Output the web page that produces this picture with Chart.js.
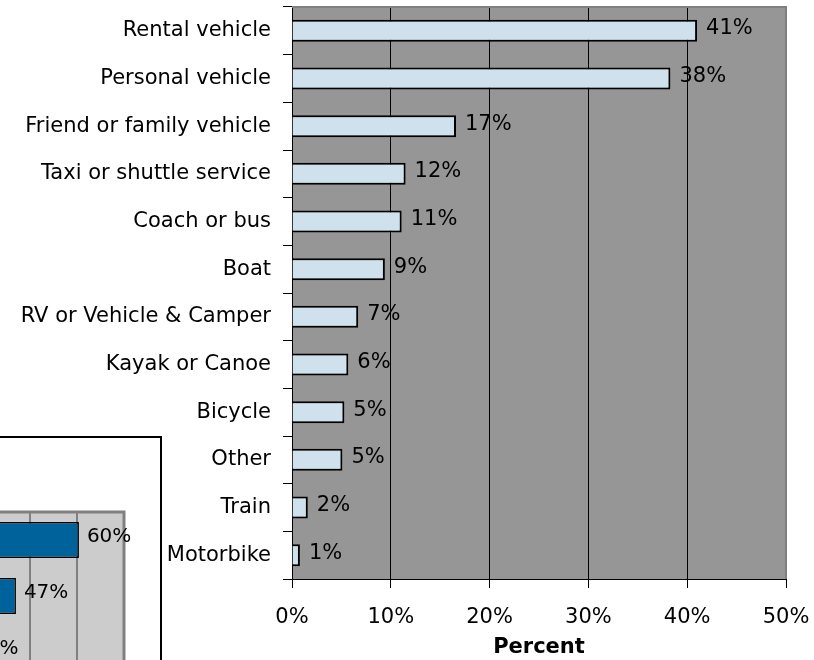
<!DOCTYPE html>
<html lang="en">
<head>
  <meta charset="UTF-8">
  <title>Transport used</title>
  <script src="https://cdn.jsdelivr.net/npm/chart.js"></script>
  <style>
    html, body { margin: 0; padding: 0; background: #fff; overflow: hidden; }
    #wrap { position: relative; width: 814px; height: 660px; overflow: hidden; }
    #main { position: absolute; left: 0; top: 0; }
    #side { position: absolute; left: -420px; top: 436px; width: 580px; height: 300px;
            background: #fff; border-top: 2px solid #000; border-right: 2px solid #000; }
  </style>
</head>
<body>
  <div id="wrap">
    <canvas id="main" width="814" height="660"></canvas>
    <div id="side"><canvas id="sideChart" width="580" height="260"></canvas></div>
  </div>
  <script>
    // main chart data
    const categories = ['Rental vehicle', 'Personal vehicle', 'Friend or family vehicle',
      'Taxi or shuttle service', 'Coach or bus', 'Boat', 'RV or Vehicle & Camper',
      'Kayak or Canoe', 'Bicycle', 'Other', 'Train', 'Motorbike'];
    const percentValues = [41.0, 38.3, 16.6, 11.5, 11.1, 9.4, 6.7, 5.7, 5.3, 5.1, 1.6, 0.8];
    const percentTicks = [0, 10, 20, 30, 40, 50];

    // the chart cut off in the lower left corner (its labels are outside the picture)
    const sideCategories = ['', '', ''];
    const sideValues = [60.4, 47.0, 36.4];
    const sideTicks = [0, 10, 20, 30, 40, 50, 60, 70];

    const FONT = 'DejaVu Sans';

    // grey plot area with a grey top/right edge, like the spreadsheet chart
    const plotBackground = {
      id: 'plotBackground',
      beforeDraw(chart, args, opts) {
        const { ctx, chartArea: a } = chart;
        ctx.save();
        ctx.fillStyle = opts.color;
        ctx.fillRect(a.left, a.top, a.right - a.left, a.bottom - a.top);
        ctx.restore();
      },
      beforeDatasetsDraw(chart, args, opts) {
        const { ctx, chartArea: a } = chart;
        ctx.save();
        ctx.strokeStyle = opts.edge;
        ctx.lineWidth = opts.edgeWidth;
        ctx.beginPath();
        ctx.moveTo(a.left, a.top);
        ctx.lineTo(a.right, a.top);
        ctx.lineTo(a.right, a.bottom);
        ctx.stroke();
        ctx.restore();
      }
    };

    // "41%" style labels to the right of each bar
    const valueLabels = {
      id: 'valueLabels',
      afterDatasetsDraw(chart, args, opts) {
        const { ctx } = chart;
        const meta = chart.getDatasetMeta(0);
        const data = chart.data.datasets[0].data;
        ctx.save();
        ctx.font = opts.font;
        ctx.fillStyle = '#000';
        ctx.textAlign = 'left';
        ctx.textBaseline = 'middle';
        meta.data.forEach((bar, i) => {
          ctx.fillText(Math.round(data[i]) + '%', bar.x + opts.gap, bar.y + opts.shift);
        });
        ctx.restore();
      }
    };

    new Chart(document.getElementById('main'), {
      type: 'bar',
      data: {
        labels: categories,
        datasets: [{
          data: percentValues,
          backgroundColor: '#cfe1ec',
          borderColor: '#000',
          borderWidth: 2,
          barPercentage: 0.46,
          categoryPercentage: 1
        }]
      },
      options: {
        indexAxis: 'y',
        responsive: false,
        animation: false,
        layout: { padding: { top: 7, right: 28, bottom: 0, left: 0 } },
        plugins: {
          legend: { display: false },
          tooltip: { enabled: false },
          plotBackground: { color: '#969696', edge: '#808080', edgeWidth: 2 },
          valueLabels: { font: '21px "' + FONT + '"', gap: 9, shift: -2 }
        },
        scales: {
          x: {
            min: 0, max: 50,
            afterBuildTicks: s => { s.ticks = percentTicks.map(v => ({ value: v })); },
            grid: { color: '#000', lineWidth: 1, tickLength: 9 },
            border: { color: '#000', width: 1 },
            ticks: { color: '#000', font: { family: FONT, size: 21 }, padding: 17,
                     callback: v => v + '%' },
            title: { display: true, text: 'Percent', color: '#000', padding: 0,
                     font: { family: FONT, size: 21, weight: 'bold' } },
            afterFit: s => { s.height = 81; s.paddingLeft = 0; s.paddingRight = 0; }
          },
          y: {
            grid: { drawOnChartArea: false, color: '#000', tickLength: 9, offset: true },
            border: { color: '#000', width: 1 },
            ticks: { color: '#000', font: { family: FONT, size: 21 }, padding: 12, autoSkip: false },
            afterFit: s => { s.width = 292; s.paddingTop = 0; s.paddingBottom = 0; }
          }
        }
      },
      plugins: [plotBackground, valueLabels]
    });

    new Chart(document.getElementById('sideChart'), {
      type: 'bar',
      data: {
        labels: sideCategories,
        datasets: [{
          data: sideValues,
          backgroundColor: '#00629b',
          borderColor: '#000',
          borderWidth: 1.5,
          barPercentage: 0.64,
          categoryPercentage: 1
        }]
      },
      options: {
        indexAxis: 'y',
        responsive: false,
        animation: false,
        layout: { padding: { top: 74, right: 36, bottom: 18, left: 215 } },
        plugins: {
          legend: { display: false },
          tooltip: { enabled: false },
          plotBackground: { color: '#cccccc', edge: '#808080', edgeWidth: 3 },
          valueLabels: { font: '20px "' + FONT + '"', gap: 8, shift: -3 }
        },
        scales: {
          x: {
            min: 0, max: 70,
            afterBuildTicks: s => { s.ticks = sideTicks.map(v => ({ value: v })); },
            grid: { color: '#808080', lineWidth: 2, drawTicks: false },
            border: { display: false },
            ticks: { display: false },
            afterFit: s => { s.height = 0; s.paddingLeft = 0; s.paddingRight = 0; }
          },
          y: { display: false }
        }
      },
      plugins: [plotBackground, valueLabels]
    });
  </script>
</body>
</html>
